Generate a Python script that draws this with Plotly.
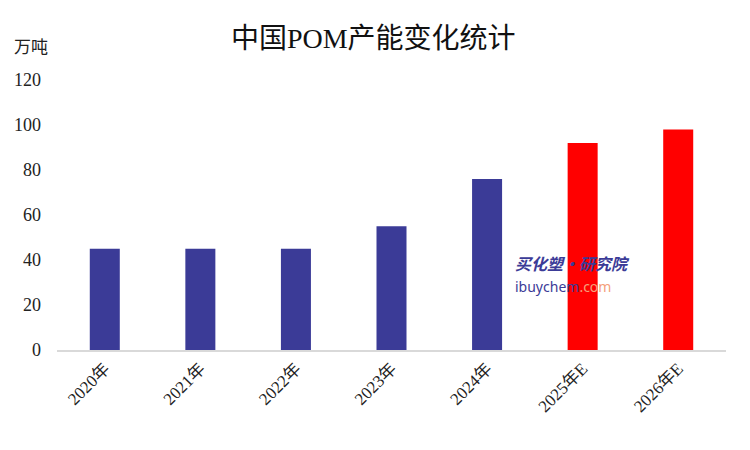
import plotly.graph_objects as go

categories = ["2020年", "2021年", "2022年", "2023年", "2024年", "2025年E", "2026年E"]
values = [45, 45, 45, 55, 76, 92, 98]
bar_colors = ["#3b3b97"] * 5 + ["#ff0000"] * 2
y_ticks = [0, 20, 40, 60, 80, 100, 120]

serif = "Liberation Serif, Noto Sans CJK SC, serif"

fig = go.Figure(go.Bar(x=categories, y=values, marker=dict(color=bar_colors, line=dict(width=0)),
                       hoverinfo="skip"))

fig.update_layout(
    width=750, height=450,
    margin=dict(l=49, r=32, t=72, b=108),
    paper_bgcolor="white", plot_bgcolor="white",
    bargap=0.686,
    showlegend=False,
    font=dict(family=serif, size=16, color="#222222"),
    title=dict(text="中国POM产能变化统计", x=0.487, xanchor="center", y=0.933, yanchor="middle",
               font=dict(family=serif, size=28, color="#111111")),
    xaxis=dict(showgrid=False, showline=True, linecolor="#d9d9d9", linewidth=2, automargin=False,
               tickangle=-45, ticks="", tickfont=dict(family=serif, size=17, color="#222222")),
    yaxis=dict(range=[0, 120], tickvals=y_ticks, showgrid=False, zeroline=False, automargin=False,
               showline=False, ticks="", ticklen=0, ticklabelstandoff=15,
               tickfont=dict(family=serif, size=18, color="#222222")),
)

fig.add_annotation(text="万吨", xref="paper", yref="paper", x=-0.068, y=1.122,
                   xanchor="left", yanchor="middle", showarrow=False,
                   font=dict(family=serif, size=17, color="#222222"))

fig.add_annotation(text="<b><i>买化塑·研究院</i></b>", xref="paper", yref="paper",
                   x=0.683, y=0.322, xanchor="left", yanchor="middle", showarrow=False,
                   borderpad=0,
                   font=dict(family="Noto Sans CJK SC", size=16, color="#3b3b97"))
fig.add_annotation(text="<span style='color:#3b3b97'>ibuychem</span><span style='color:#f4a07a'>.com</span>",
                   xref="paper", yref="paper", x=0.683, y=0.235, xanchor="left", yanchor="middle",
                   borderpad=0,
                   showarrow=False, font=dict(family="Noto Sans, sans-serif", size=14))

fig.write_html("out.html")
